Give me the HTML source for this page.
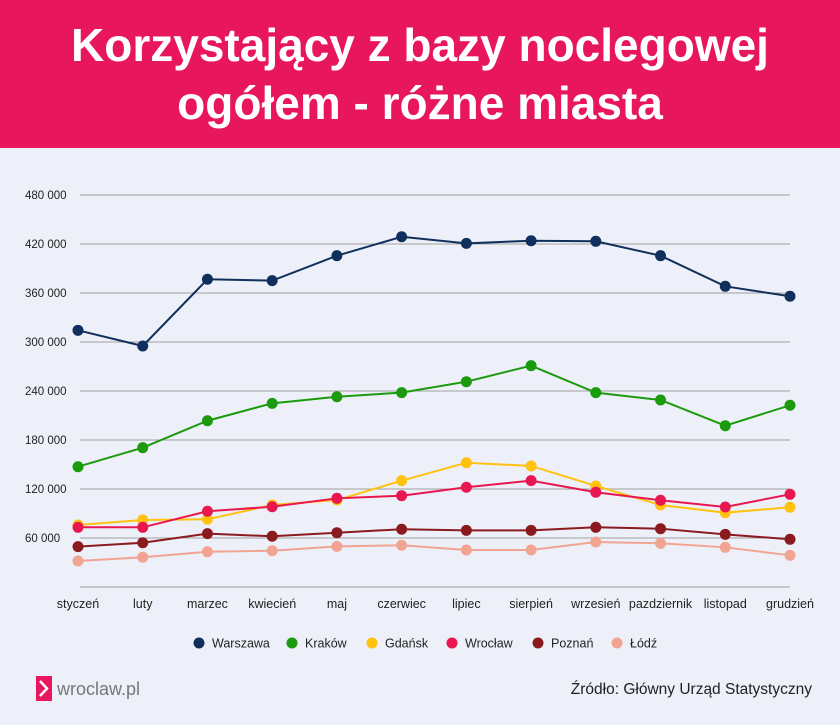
<!DOCTYPE html>
<html><head><meta charset="utf-8"><style>
body{margin:0;width:840px;height:725px;background:#edf0f8;font-family:"Liberation Sans Narrow","Liberation Sans",sans-serif;overflow:hidden}
#hdr{position:absolute;left:0;top:0;width:840px;height:148px;background:#e8175d;color:#fff;text-align:center;font:bold 46px/58px "Liberation Sans",sans-serif;padding-top:16px;box-sizing:border-box;letter-spacing:0px}
svg{position:absolute;left:0;top:0}
</style></head><body>
<div id="hdr">Korzystający z bazy noclegowej<br>ogółem - różne miasta</div>
<svg id="c" width="840" height="725"></svg>
<script>
const months=["styczeń","luty","marzec","kwiecień","maj","czerwiec","lipiec","sierpień","wrzesień","pazdziernik","listopad","grudzień"];
const yTicks=[60000,120000,180000,240000,300000,360000,420000,480000];
const yTickLabels=["60 000","120 000","180 000","240 000","300 000","360 000","420 000","480 000"];
const seriesNames=["Warszawa","Kraków","Gdańsk","Wrocław","Poznań","Łódź"];
const warszawa=[314300,295100,376800,375100,405700,428900,420800,424000,423300,405700,368200,356000];
const krakow=[147300,170600,203600,224900,233000,238000,251400,271000,238000,229000,197500,222500];
const gdansk=[75900,82000,82900,100400,106500,130200,152200,148200,123700,100400,91000,97600];
const wroclaw=[73100,73100,92700,98300,108600,111800,122100,130200,116000,106200,98000,113500];
const poznan=[49400,54200,65300,62100,66500,70700,69400,69400,73100,71400,64500,58400];
const lodz=[31800,36400,43200,44400,49800,51100,45300,45300,55100,53500,48600,38800];
const colors=["#0f2f5c","#1a9a0c","#ffc20e","#e8174f","#8b1a1e","#f2a493"];
const allSeries=[warszawa,krakow,gdansk,wroclaw,poznan,lodz];
const NS="http://www.w3.org/2000/svg",svg=document.getElementById('c');
const x=i=>78+i*(712/11), y=v=>587-v/60000*49;
function mk(t,a,p){const e=document.createElementNS(NS,t);for(const k in a)e.setAttribute(k,a[k]);(p||svg).appendChild(e);return e;}
const base=mk('line',{x1:80,x2:790,y1:587,y2:587,stroke:'#a0a0a0','stroke-width':1});


yTicks.forEach((t,i)=>{
 const g=mk('line',{x1:80,x2:790,y1:y(t),y2:y(t),stroke:'#a0a0a0','stroke-width':1});
 
 
 const l=mk('text',{x:25,y:y(t)+4,'font-size':11.5,fill:'#222'});
 l.textContent=yTickLabels[i];
 
 
});
months.forEach((m,i)=>{
 const l=mk('text',{x:x(i),y:608,'font-size':12.5,fill:'#222','text-anchor':'middle'});
 l.textContent=m;
 
 
});
allSeries.forEach((s,k)=>{
 const g=mk('g',{});
 
 
 mk('polyline',{points:s.map((v,i)=>x(i)+','+y(v)).join(' '),fill:'none',stroke:colors[k],'stroke-width':2},g);
 s.forEach((v,i)=>{
  const c=mk('circle',{cx:x(i),cy:y(v),r:5.5,fill:colors[k]},g);
  
  
 });
});
const lx=[199,292,372,452,538,617];
seriesNames.forEach((n,k)=>{
 const g=mk('g',{});
 
 
 mk('circle',{cx:lx[k],cy:643,r:5.5,fill:colors[k]},g);
 const t=mk('text',{x:lx[k]+13,y:647.5,'font-size':12.5,fill:'#222'},g);
 t.textContent=n;
});
const lg=mk('g',{});


mk('rect',{x:36,y:676,width:16,height:25,fill:'#e8175d'},lg);
mk('polyline',{points:'40,681 47,688.5 40,696',fill:'none',stroke:'#fff','stroke-width':2.5},lg);
const lt=mk('text',{x:57,y:695,'font-size':18,fill:'#777'},lg);
lt.textContent='wroclaw.pl';
const src=mk('text',{x:812,y:694,'font-size':15.5,fill:'#222','text-anchor':'end'});
src.textContent='Źródło: Główny Urząd Statystyczny';


</script>
</body></html>
